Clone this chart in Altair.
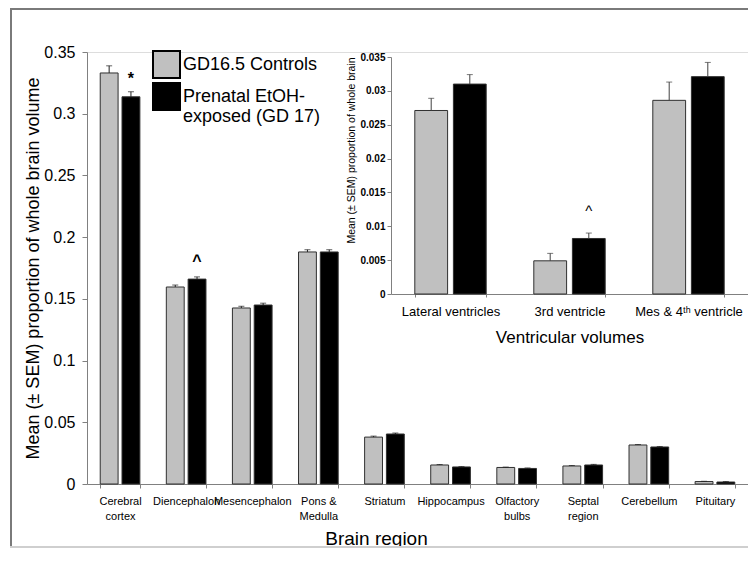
import altair as alt
import pandas as pd

# ---------------- data ----------------
groups = ["GD16.5 Controls", "Prenatal EtOH-exposed (GD 17)"]
group_colors = ["#C0C0C0", "#000000"]

regions = ["Cerebral cortex", "Diencephalon", "Mesencephalon", "Pons & Medulla",
           "Striatum", "Hippocampus", "Olfactory bulbs", "Septal region",
           "Cerebellum", "Pituitary"]
control_mean = [0.333, 0.1596, 0.1426, 0.188, 0.038, 0.0154, 0.0134, 0.0146, 0.0316, 0.0020]
control_sem = [0.0058, 0.0016, 0.0014, 0.0018, 0.0008, 0.0004, 0.0003, 0.0004, 0.0004, 0.0002]
etoh_mean = [0.3137, 0.166, 0.145, 0.188, 0.0405, 0.0138, 0.0126, 0.0154, 0.0300, 0.0016]
etoh_sem = [0.0041, 0.0018, 0.0015, 0.0018, 0.0008, 0.0003, 0.0004, 0.0005, 0.0004, 0.0004]

region_lines = {
    "Cerebral cortex": ["Cerebral", "cortex"],
    "Pons & Medulla": ["Pons &", "Medulla"],
    "Olfactory bulbs": ["Olfactory", "bulbs"],
    "Septal region": ["Septal", "region"],
}

ventricles = ["Lateral ventricles", "3rd ventricle", "Mes & 4\u1d57\u02b0 ventricle"]
vent_control_mean = [0.0271, 0.0049, 0.0286]
vent_control_sem = [0.0018, 0.0011, 0.0027]
vent_etoh_mean = [0.0310, 0.0082, 0.0321]
vent_etoh_sem = [0.0014, 0.0008, 0.0021]

main_notes_region = ["Cerebral cortex", "Diencephalon"]
main_notes_text = ["*", "^"]
main_notes_y = [0.328, 0.181]
vent_notes_region = ["3rd ventricle"]
vent_notes_text = ["^"]
vent_notes_y = [0.0122]

main_y_ticks = [0, 0.05, 0.1, 0.15, 0.2, 0.25, 0.3, 0.35]
vent_y_ticks = [0, 0.005, 0.01, 0.015, 0.02, 0.025, 0.03, 0.035]

# ---------------- tables ----------------
def make_df(cats, cm, cs, em, es):
    rows = []
    for i, c in enumerate(cats):
        rows.append({"cat": c, "group": groups[0], "mean": cm[i], "upper": cm[i] + cs[i]})
        rows.append({"cat": c, "group": groups[1], "mean": em[i], "upper": em[i] + es[i]})
    return pd.DataFrame(rows)

main_df = make_df(regions, control_mean, control_sem, etoh_mean, etoh_sem)
vent_df = make_df(ventricles, vent_control_mean, vent_control_sem, vent_etoh_mean, vent_etoh_sem)
main_notes = pd.DataFrame({"cat": main_notes_region, "group": groups[1],
                           "text": main_notes_text, "y": main_notes_y})
vent_notes = pd.DataFrame({"cat": vent_notes_region, "group": groups[1],
                           "text": vent_notes_text, "y": vent_notes_y})

FONT = "Liberation Sans"
W, H = 661, 432
PAD_B = 64
AX = "#808080"

# label expression for multi-line region labels
expr = "datum.label"
for k, v in region_lines.items():
    expr = f"datum.label == '{k}' ? {v!r} : ({expr})"

color = alt.Color(
    "group:N",
    scale=alt.Scale(domain=groups, range=group_colors),
    legend=alt.Legend(
        title=None, orient="none", legendX=65, legendY=-2, padding=0,
        symbolType="square", symbolSize=729, symbolStrokeColor="#000000",
        symbolStrokeWidth=2, symbolOpacity=1, labelFont=FONT, labelFontSize=18,
        labelLimit=400, labelOffset=2, rowPadding=-6, labelBaseline="middle",
        labelExpr="datum.label == 'Prenatal EtOH-exposed (GD 17)' ? ['Prenatal EtOH-', 'exposed (GD 17)'] : datum.label",
    ),
)

# ---------------- main chart ----------------
mx = alt.X(
    "cat:N", sort=regions,
    scale=alt.Scale(domain=regions, paddingInner=0.4, paddingOuter=0.2),
    axis=alt.Axis(title="Brain region", labelAngle=0, labelFont=FONT, labelFontSize=11,
                  labelColor="black", labelExpr=expr, labelLineHeight=15, labelPadding=7,
                  labelBaseline="top", tickBand="extent", tickSize=4, domainColor=AX,
                  tickColor=AX, titleFont=FONT, titleFontSize=19, titleFontWeight="normal",
                  titleColor="black", titlePadding=8, titleX=289, labelLimit=200),
)
mxo = alt.XOffset("group:N", sort=groups, scale=alt.Scale(domain=groups, paddingInner=0.18))
my_scale = alt.Scale(domain=[0, 0.35], nice=False)

main_bars = alt.Chart(main_df).mark_bar(stroke="#303030", strokeWidth=1).encode(
    x=mx, xOffset=mxo,
    y=alt.Y("mean:Q", scale=my_scale,
            axis=alt.Axis(title="Mean (\u00b1 SEM) proportion of whole brain volume",
                          values=main_y_ticks, format="~g", grid=False, labelFont=FONT,
                          labelFontSize=16, labelColor="black", tickSize=5, labelPadding=7,
                          domainColor=AX, tickColor=AX, titleFont=FONT, titleFontSize=18,
                          titleFontWeight="normal", titleColor="black", titlePadding=1)),
    color=color,
)
main_err = alt.Chart(main_df).mark_rule(color="#202020", strokeWidth=1).encode(
    x=mx, xOffset=mxo, y=alt.Y("mean:Q", scale=my_scale), y2="upper:Q")
main_cap = alt.Chart(main_df).mark_tick(color="#202020", thickness=1, size=6).encode(
    x=mx, xOffset=mxo, y=alt.Y("upper:Q", scale=my_scale))
main_txt = alt.Chart(main_notes).mark_text(font=FONT, fontSize=16, fontWeight="bold",
                                           baseline="middle").encode(
    x=mx, xOffset=mxo, y=alt.Y("y:Q", scale=my_scale), text="text:N")

FB = 540 - 44 - 1  # bottom frame line, inside the drawing
frame_df = pd.DataFrame({"k": [0]})
frame_left = alt.Chart(frame_df).mark_rule(color="#7a7a7a", strokeWidth=2).encode(
    x=alt.value(-76), y=alt.value(-43), y2=alt.value(FB))
frame_top = alt.Chart(frame_df).mark_rule(color="#7a7a7a", strokeWidth=2).encode(
    x=alt.value(-77), x2=alt.value(W), y=alt.value(-43))
frame_bottom = alt.Chart(frame_df).mark_rule(color="#cfcfcf", strokeWidth=2).encode(
    x=alt.value(-77), x2=alt.value(W), y=alt.value(FB))

main_layer = alt.layer(main_bars, main_err, main_cap, main_txt,
                       frame_left, frame_top, frame_bottom)

# ---------------- inset chart ----------------
IX0, IX1 = 304, W
IY0, IY1 = 242, 5

vx = alt.X(
    "cat:N", sort=ventricles,
    scale=alt.Scale(domain=ventricles, range=[IX0, IX1], paddingInner=0.4, paddingOuter=0.2),
    axis=alt.Axis(title="Ventricular volumes", orient="bottom", offset=-(H - IY0),
                  labelAngle=0, labelFont=FONT, labelFontSize=13, labelColor="black",
                  labelPadding=8, tickBand="extent", tickSize=3, domainColor=AX,
                  tickColor=AX, titleFont=FONT, titleFontSize=17,
                  titleFontWeight="normal", titleColor="black", titlePadding=11,
                  labelLimit=200),
)
vxo = alt.XOffset("group:N", sort=groups, scale=alt.Scale(domain=groups, paddingInner=0.15))
vy_scale = alt.Scale(domain=[0, 0.035], range=[IY0, IY1], nice=False)

vent_bars = alt.Chart(vent_df).mark_bar(stroke="#303030", strokeWidth=1).encode(
    x=vx, xOffset=vxo,
    y=alt.Y("mean:Q", scale=vy_scale,
            axis=alt.Axis(title="Mean (\u00b1 SEM) proportion of whole brain", orient="left",
                          offset=-IX0, values=vent_y_ticks, format="~g", grid=False,
                          labelFont=FONT, labelFontSize=10, labelFontWeight="bold",
                          labelColor="black", tickSize=4, domainColor=AX, tickColor=AX,
                          titleFont=FONT, titleFontSize=10.5, titleFontWeight="normal",
                          titleColor="black", titlePadding=3, titleAnchor="end")),
    color=color,
)
vent_err = alt.Chart(vent_df).mark_rule(color="#404040", strokeWidth=1).encode(
    x=vx, xOffset=vxo, y=alt.Y("mean:Q", scale=vy_scale), y2="upper:Q")
vent_cap = alt.Chart(vent_df).mark_tick(color="#404040", thickness=1, size=6).encode(
    x=vx, xOffset=vxo, y=alt.Y("upper:Q", scale=vy_scale))
vent_txt = alt.Chart(vent_notes).mark_text(font=FONT, fontSize=15, baseline="middle").encode(
    x=vx, xOffset=vxo, y=alt.Y("y:Q", scale=vy_scale), text="text:N")

vent_layer = alt.layer(vent_bars, vent_err, vent_cap, vent_txt)

chart = alt.layer(main_layer, vent_layer).resolve_scale(
    x="independent", y="independent", xOffset="independent"
).properties(
    width=W, height=H,
    autosize=alt.AutoSizeParams(type="none"),
    padding={"left": 79, "top": 44, "right": 0, "bottom": PAD_B},
).configure_view(stroke=None).configure(background="white")

chart.save("out.html", embed_options={"renderer": "svg", "actions": False})
